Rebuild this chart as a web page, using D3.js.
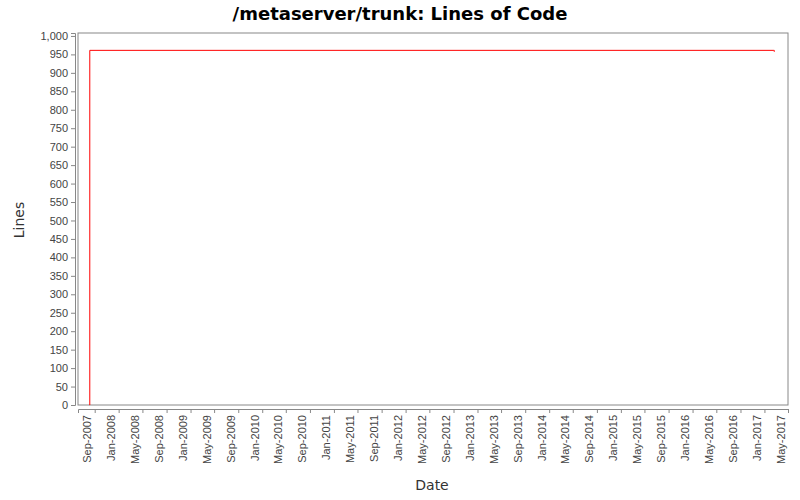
<!DOCTYPE html>
<html><head><meta charset="utf-8">
<script src="https://cdn.jsdelivr.net/npm/d3@7"></script>
<style>
body{margin:0;background:#fff;font-family:"DejaVu Sans",sans-serif}
.axis text{font-size:11px;fill:#444}
.axis path,.axis line{stroke:#888}
</style></head><body>
<svg id="main" width="800" height="500"></svg>
<script>
var dates = ["2007-08-06","2007-08-07","2017-02-18","2017-02-20"];
var lines = [0, 961, 961, 957];
var tickDates = [];
for (var y = 2007; y <= 2017; y++) ["01","05","09"].forEach(function(m){
    var d = y + "-" + m + "-01";
    if (d >= "2007-09-01" && d <= "2017-05-01") tickDates.push(d);
});

var parse = d3.utcParse("%Y-%m-%d");
var data = dates.map(function(d, i){ return {date: parse(d), lines: lines[i]}; });

var margin = {top: 33, right: 12, bottom: 95, left: 78};
var svg = d3.select("#main"),
    width = 800 - margin.left - margin.right,
    height = 500 - margin.top - margin.bottom;

var xScale = d3.scaleUtc().domain([parse("2007-06-08"), parse("2017-05-01")]).range([0, width]),
    yScale = d3.scaleLinear().domain([0, 1008]).range([height, 0]),
    g = svg.append("g").attr("transform", "translate(" + margin.left + "," + margin.top + ")");

svg.append("text").attr("x", 400).attr("y", 20).attr("text-anchor", "middle")
    .style("font-size", "18px").style("font-weight", "bold").text("/metaserver/trunk: Lines of Code");

g.append("rect").attr("width", width).attr("height", height)
    .attr("fill", "#fff").attr("stroke", "#888");

g.append("g").attr("class", "axis").attr("transform", "translate(-3,0)")
    .call(d3.axisLeft(yScale).tickValues(d3.range(0, 1001, 50)).tickSize(4).tickFormat(d3.format(",")));

g.append("g").attr("class", "axis").attr("transform", "translate(0," + (height + 4) + ")")
    .call(d3.axisBottom(xScale).tickValues(tickDates.map(parse)).tickSize(4).tickFormat(d3.utcFormat("%b-%Y")))
    .selectAll("text")
    .attr("transform", "rotate(-90)").attr("text-anchor", "end")
    .attr("x", -6).attr("y", -4).attr("dy", 0);

var line = d3.line().x(function(d){ return xScale(d.date); })
    .y(function(d){ return yScale(d.lines); }).curve(d3.curveStepAfter);
g.append("path").attr("d", line(data)).attr("fill", "none").attr("stroke", "red").attr("stroke-width", 1);

svg.append("text").attr("x", 432).attr("y", 490).attr("text-anchor", "middle")
    .style("font-size", "14px").style("fill", "#333").text("Date");
svg.append("text").attr("transform", "translate(24,220) rotate(-90)").attr("text-anchor", "middle")
    .style("font-size", "14px").style("fill", "#333").text("Lines");
</script></body></html>
